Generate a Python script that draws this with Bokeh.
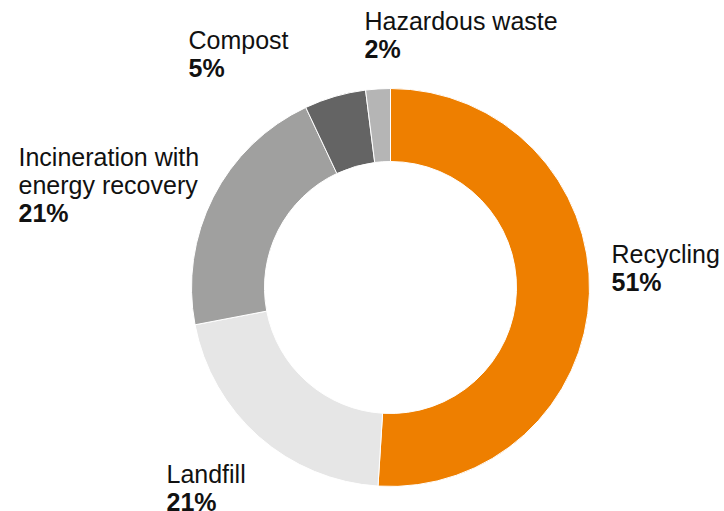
import math
from bokeh.plotting import figure
from bokeh.models import Range1d, ColumnDataSource
from bokeh.core.properties import value
from bokeh.embed import file_html
from bokeh.resources import INLINE

# ---- data ----
categories = ["Recycling", "Landfill", "Incineration with energy recovery", "Compost", "Hazardous waste"]
shares = [51, 21, 21, 5, 2]
pct_labels = ["51%", "21%", "21%", "5%", "2%"]
name_lines = [["Recycling"], ["Landfill"], ["Incineration with", "energy recovery"], ["Compost"], ["Hazardous waste"]]
colors = ["#EE7F00", "#E6E6E6", "#A0A09F", "#646464", "#B5B5B5"]

# ---- layout (image pixel coords, y down) ----
W, H = 724, 511
cx, cy = 390, 287
R_out, R_in = 199, 126
# label anchor: (left x, first baseline y)
label_pos = [(611, 253), (166, 473), (18, 156), (188, 39), (364, 20)]
line_h = 28
FONT = "Liberation Sans"
FS = "25px"

def yu(y):
    return H - y

p = figure(width=W, height=H, output_backend="svg", toolbar_location=None,
           x_range=Range1d(0, W), y_range=Range1d(0, H), min_border=0)
p.axis.visible = False
p.grid.visible = False
p.outline_line_color = None
p.background_fill_color = "white"
p.border_fill_color = "white"

total = float(sum(shares))
starts, ends = [], []
acc = 0.0
for s in shares:
    a0 = acc / total * 2 * math.pi
    acc += s
    a1 = acc / total * 2 * math.pi
    starts.append(math.pi / 2 - a0)
    ends.append(math.pi / 2 - a1)

src = ColumnDataSource(dict(start=starts, end=ends, color=colors))
p.annular_wedge(x=cx, y=yu(cy), inner_radius=R_in, outer_radius=R_out,
                start_angle="start", end_angle="end", direction="clock",
                fill_color="color", line_color="white", line_width=1, source=src)

nx, ny, nt, px_, py_, pt = [], [], [], [], [], []
for (lx, ly), lines, pc in zip(label_pos, name_lines, pct_labels):
    for i, ln in enumerate(lines):
        nx.append(lx); ny.append(yu(ly + i * line_h)); nt.append(ln)
    px_.append(lx); py_.append(yu(ly + len(lines) * line_h)); pt.append(pc)

p.text(x=nx, y=ny, text=nt, text_font=value(FONT), text_font_size=FS,
       text_color="#111111", text_align="left", text_baseline="alphabetic")
p.text(x=px_, y=py_, text=pt, text_font=value(FONT), text_font_size=FS,
       text_font_style="bold", text_color="#111111", text_align="left", text_baseline="alphabetic")

open("out.html", "w").write(file_html(p, INLINE))
